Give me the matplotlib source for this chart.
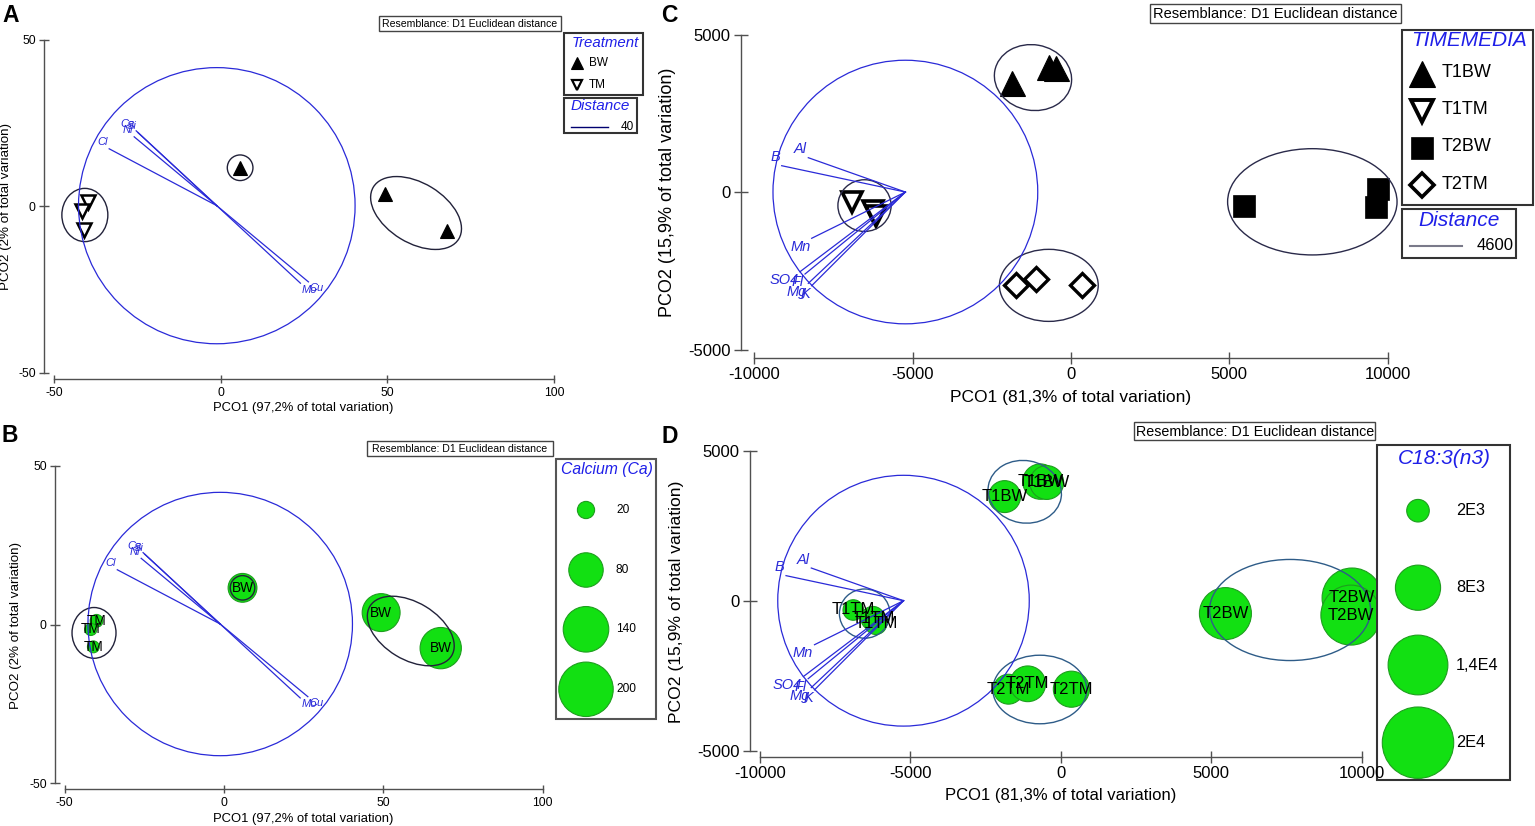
import matplotlib
matplotlib.use('Agg')
import matplotlib.pyplot as plt
from matplotlib.patches import Ellipse, Rectangle
import numpy as np

plt.rcParams['font.family'] = ['Liberation Sans', 'DejaVu Sans']
plt.rcParams['axes.unicode_minus'] = False

# ---------------- Panels A & B (Treatment / Calcium) ----------------
treatment = ['BW', 'BW', 'BW', 'TM', 'TM', 'TM']
pco1_ab = [5.8, 49.3, 68.0, -40.0, -41.8, -41.0]
pco2_ab = [11.6, 3.8, -7.4, 1.2, -1.5, -7.0]
calcium = [56, 97, 115, 11, 10, 9.5]

vec_ab_names = ['Cl', 'Ca', 'Si', 'Ni', 'Mo', 'Cu']
vec_ab_x = [-33.5, -25.4, -24.9, -26.0, 23.9, 26.3]
vec_ab_y = [17.3, 22.7, 22.2, 20.9, -23.1, -22.7]
vec_ab_origin = [-1.2, 0.2]
circle_ab_radius = 41.5

ell_ab_x = [5.8, -40.8, 58.6]
ell_ab_y = [11.6, -2.6, -2.0]
ell_ab_w = [7.7, 13.8, 30.0]
ell_ab_h = [7.7, 16.0, 18.0]
ell_ab_angle = [0, 0, -31.4]

ab_xticks = [-50, 0, 50, 100]
ab_yticks = [-50, 0, 50]
calcium_legend = [20, 80, 140, 200]
distance_ab = '40'

# ---------------- Panels C & D (TIMEMEDIA / C18:3(n3)) ----------------
timemedia = ['T1BW'] * 3 + ['T1TM'] * 3 + ['T2BW'] * 3 + ['T2TM'] * 3
pco1_cd = [-1870, -680, -470, -6900, -6250, -6150, 5470, 9680, 9640, -1740, -1100, 350]
pco2_cd = [3480, 3980, 3950, -300, -580, -750, -420, 100, -470, -2940, -2760, -2940]
c18 = [4000, 4900, 4500, 1650, 2250, 1900, 10600, 14100, 14100, 3500, 5000, 5100]

vec_cd_names = ['Al', 'B', 'Mn', 'SO4', 'Fl', 'Mg', 'K']
vec_cd_x = [-8295, -9135, -8188, -8557, -8399, -8295, -8188]
vec_cd_y = [1099, 845, -1457, -2517, -2590, -2885, -2961]
vec_cd_origin = [-5230, 10]
circle_cd_radius = 4180

ell_cd_x = [-1200, -6520, 7620, -700]
ell_cd_y = [3640, -420, -300, -2950]
ell_cd_w = [2450, 1680, 5350, 3120]
ell_cd_h = [2080, 1640, 3370, 2285]
ell_cd_angle = [-10, 0, 0, 0]

cd_xticks = [-10000, -5000, 0, 5000, 10000]
cd_yticks = [-5000, 0, 5000]
c18_legend = [2000, 8000, 14000, 20000]
c18_legend_labels = ['2E3', '8E3', '1,4E4', '2E4']
distance_cd = '4600'

# ---------------- styles ----------------
BLUE = '#2a2ad8'
TITLE_BLUE = '#1f1fe8'
GREEN = '#12e012'
GREEN_EDGE = '#1e9e1e'
AXCOL = '#505050'
marker_ab = {'BW': dict(marker='^', mfc='black', mec='black', ms=10.5, mew=0.8),
             'TM': dict(marker='v', mfc='white', mec='black', ms=9.5, mew=1.8)}
marker_cd = {'T1BW': dict(marker='^', mfc='black', mec='black', ms=18, mew=0.8),
             'T1TM': dict(marker='v', mfc='white', mec='black', ms=14, mew=2.6),
             'T2BW': dict(marker='s', mfc='black', mec='black', ms=16, mew=0.5),
             'T2TM': dict(marker='D', mfc='white', mec='black', ms=12, mew=2.4)}
S_AB = 7.68    # points^2 per calcium unit
S_CD = 0.1322  # points^2 per C18:3 unit

W, H = 1535, 826
fig = plt.figure(figsize=(W / 100, H / 100), dpi=100)


def make_axes(L, R, T, B, xcal, ycal):
    xv1, xp1, xv2, xp2 = xcal
    yv1, yp1, yv2, yp2 = ycal
    sx = (xp2 - xp1) / (xv2 - xv1)
    sy = (yp2 - yp1) / (yv2 - yv1)
    ax = fig.add_axes([L / W, 1 - B / H, (R - L) / W, (B - T) / H])
    ax.set_xlim(xv1 + (L - xp1) / sx, xv1 + (R - xp1) / sx)
    ax.set_ylim(yv1 + (B - yp1) / sy, yv1 + (T - yp1) / sy)
    ax.patch.set_visible(False)
    ax.set_zorder(1)
    return ax


def style_axes(ax, xticks, yticks, fs, ylen, xlen):
    for s in ['top', 'right']:
        ax.spines[s].set_visible(False)
    ax.spines['left'].set_bounds(min(yticks), max(yticks))
    ax.spines['bottom'].set_bounds(min(xticks), max(xticks))
    for s in ['left', 'bottom']:
        ax.spines[s].set_color(AXCOL)
        ax.spines[s].set_linewidth(1.0)
    ax.set_xticks(xticks)
    ax.set_xticklabels([str(t) for t in xticks])
    ax.set_yticks(yticks)
    ax.set_yticklabels([str(t) for t in yticks])
    ax.tick_params(axis='x', direction='inout', length=xlen, width=1, color=AXCOL,
                   labelsize=fs, pad=2.5)
    ax.tick_params(axis='y', direction='inout', length=ylen, width=1, color=AXCOL,
                   labelsize=fs, pad=2.5)


def draw_vectors(ax, names, xs, ys, origin, radius, fs):
    ox, oy = origin
    ax.add_patch(Ellipse((ox, oy), 2 * radius, 2 * radius, fill=False, ec=BLUE, lw=0.9,
                         zorder=4, clip_on=False))
    for n, x, y in zip(names, xs, ys):
        ax.plot([ox, x], [oy, y], color=BLUE, lw=0.9, zorder=4, clip_on=False)
        dx, dy = x - ox, y - oy
        ax.annotate(n, (x, y), xytext=(np.sign(dx) * 1, np.sign(dy) * 1),
                    textcoords='offset points', ha='right' if dx < 0 else 'left',
                    va='bottom' if dy > 0 else 'top', color=BLUE, fontsize=fs,
                    style='italic', zorder=5, annotation_clip=False)


def draw_ellipses(ax, xs, ys, ws, hs, angs, color):
    for x, y, w, h, a in zip(xs, ys, ws, hs, angs):
        ax.add_patch(Ellipse((x, y), w, h, angle=a, fill=False, ec=color, lw=1.0,
                             zorder=3, clip_on=False))


# ---------------- Panel A ----------------
axA = make_axes(44, 560, 30, 379.4, (-50, 54.2, 100, 554), (50, 40, -50, 372.7))
style_axes(axA, ab_xticks, ab_yticks, 8.7, 7, 6)
for g in ['BW', 'TM']:
    xs = [x for x, t in zip(pco1_ab, treatment) if t == g]
    ys = [y for y, t in zip(pco2_ab, treatment) if t == g]
    axA.plot(xs, ys, ls='none', zorder=3, clip_on=False, **marker_ab[g])
draw_ellipses(axA, ell_ab_x, ell_ab_y, ell_ab_w, ell_ab_h, ell_ab_angle, '#22223a')
draw_vectors(axA, vec_ab_names, vec_ab_x, vec_ab_y, vec_ab_origin, circle_ab_radius, 8)

# ---------------- Panel B ----------------
axB = make_axes(55, 550, 455, 789.3, (-50, 64.7, 100, 542.7), (50, 466, -50, 783.3))
style_axes(axB, ab_xticks, ab_yticks, 8.7, 7, 6)
axB.scatter(pco1_ab, pco2_ab, s=[S_AB * v for v in calcium], c=GREEN, edgecolors=GREEN_EDGE,
            linewidths=0.8, zorder=2, clip_on=False)
draw_ellipses(axB, ell_ab_x, ell_ab_y, ell_ab_w, ell_ab_h, ell_ab_angle, '#22223a')
draw_vectors(axB, vec_ab_names, vec_ab_x, vec_ab_y, vec_ab_origin, circle_ab_radius, 8)
for x, y, t in zip(pco1_ab, pco2_ab, treatment):
    axB.text(x, y, t, ha='center', va='center', fontsize=9.8, zorder=6)

# ---------------- Panel C ----------------
axC = make_axes(740.7, 1400, 25, 357.7, (-10000, 754.3, 10000, 1387.7), (5000, 34.7, -5000, 350))
style_axes(axC, cd_xticks, cd_yticks, 12, 10, 8)
for g in ['T1BW', 'T1TM', 'T2BW', 'T2TM']:
    xs = [x for x, t in zip(pco1_cd, timemedia) if t == g]
    ys = [y for y, t in zip(pco2_cd, timemedia) if t == g]
    axC.plot(xs, ys, ls='none', zorder=3, clip_on=False, **marker_cd[g])
draw_ellipses(axC, ell_cd_x, ell_cd_y, ell_cd_w, ell_cd_h, ell_cd_angle, '#2a2a4a')
draw_vectors(axC, vec_cd_names, vec_cd_x, vec_cd_y, vec_cd_origin, circle_cd_radius, 10.5)

# ---------------- Panel D ----------------
# right edge of the plotting area stops at the legend box, so the large bubbles are cut there
axD = make_axes(750, 1376, 440, 757.3, (-10000, 760, 10000, 1361.7), (5000, 451, -5000, 751))
style_axes(axD, cd_xticks, cd_yticks, 12, 10, 8)
axD.scatter(pco1_cd, pco2_cd, s=[S_CD * v for v in c18], c=GREEN, edgecolors=GREEN_EDGE,
            linewidths=0.8, zorder=2, clip_on=True)
draw_ellipses(axD, ell_cd_x, ell_cd_y, ell_cd_w, ell_cd_h, ell_cd_angle, '#2e5c88')
draw_vectors(axD, vec_cd_names, vec_cd_x, vec_cd_y, vec_cd_origin, circle_cd_radius, 10.5)
for x, y, t in zip(pco1_cd, pco2_cd, timemedia):
    axD.text(x, y, t, ha='center', va='center', fontsize=12, zorder=6)

# ---------------- overlay (labels, legends, boxes) in pixel coordinates ----------------
ov = fig.add_axes([0, 0, 1, 1])
ov.set_xlim(0, W)
ov.set_ylim(H, 0)
ov.axis('off')
ov.set_zorder(0)


def box(x0, y0, x1, y1, lw=1.0, ec='#333333'):
    ov.add_patch(Rectangle((x0, y0), x1 - x0, y1 - y0, fc='white', ec=ec, lw=lw, zorder=10))


def t(x, y, s, **kw):
    kw.setdefault('ha', 'center')
    kw.setdefault('va', 'center')
    ov.text(x, y, s, zorder=11, **kw)


# panel letters
for (x, y, s) in [(11, 16, 'A'), (10, 435, 'B'), (669, 15.5, 'C'), (670, 436.5, 'D')]:
    t(x, y, s, fontsize=16.5, fontweight='bold')

# resemblance boxes
res_txt = 'Resemblance: D1 Euclidean distance'
for (x0, y0, x1, y1, fs) in [(379, 16, 561, 30.5, 7.6), (367, 441, 553, 455.7, 7.6),
                             (1150, 4, 1401, 23.3, 10.5), (1134.4, 422.3, 1375.3, 440.3, 10.3)]:
    box(x0, y0, x1, y1, lw=1.0, ec='#444444')
    t((x0 + x1) / 2, (y0 + y1) / 2 + 0.5, res_txt, fontsize=fs)

# axis labels
t(303.6, 408.5, 'PCO1 (97,2% of total variation)', fontsize=9.4)
t(6.5, 206.7, 'PCO2 (2% of total variation)', fontsize=9.6, rotation=90)
t(303.5, 819.3, 'PCO1 (97,2% of total variation)', fontsize=9.4)
t(15.7, 625.5, 'PCO2 (2% of total variation)', fontsize=9.6, rotation=90)
t(1070.8, 397.3, 'PCO1 (81,3% of total variation)', fontsize=12.5)
t(667.4, 192.5, 'PCO2 (15,9% of total variation)', fontsize=13, rotation=90)
t(1060.3, 795.7, 'PCO1 (81,3% of total variation)', fontsize=12)
t(676.4, 601.7, 'PCO2 (15,9% of total variation)', fontsize=12.6, rotation=90)

# Legend A: Treatment
box(564, 33, 642.7, 95.3, lw=1.5)
t(605, 43, 'Treatment', fontsize=10.8, style='italic', color=TITLE_BLUE)
legA_marker = {'BW': dict(marker='^', mfc='black', mec='black', ms=8, mew=0.8),
               'TM': dict(marker='v', mfc='white', mec='black', ms=7.5, mew=1.6)}
for i, g in enumerate(['BW', 'TM']):
    yy = 62.5 + 22 * i
    ov.plot([577], [yy], ls='none', zorder=11, **legA_marker[g])
    t(589, yy, g, fontsize=8.5, ha='left')
box(564, 98, 637, 133, lw=1.5)
t(600, 106.5, 'Distance', fontsize=11, style='italic', color=TITLE_BLUE)
ov.plot([571, 608], [127, 127], color='#000070', lw=1.0, zorder=11)
t(634, 127, distance_ab, fontsize=8.5, ha='right')

# Legend B: Calcium
box(555.5, 459, 656, 719.3, lw=1.5, ec='#555555')
t(606.5, 469.5, 'Calcium (Ca)', fontsize=11.3, style='italic', color=TITLE_BLUE)
legB_y = [510, 570, 629.3, 689.3]
ov.scatter([586] * len(calcium_legend), legB_y, s=[S_AB * v for v in calcium_legend], c=GREEN,
           edgecolors=GREEN_EDGE, linewidths=0.8, zorder=11)
for yy, v in zip(legB_y, calcium_legend):
    t(616, yy, str(v), fontsize=8.6, ha='left')

# Legend C: TIMEMEDIA
box(1402.3, 30, 1533.3, 205, lw=1.5)
t(1469, 41, 'TIMEMEDIA', fontsize=15, style='italic', color=TITLE_BLUE)
legC_marker = {'T1BW': dict(marker='^', mfc='black', mec='black', ms=19, mew=0.8),
               'T1TM': dict(marker='v', mfc='white', mec='black', ms=16, mew=2.8),
               'T2BW': dict(marker='s', mfc='black', mec='black', ms=16, mew=0.5),
               'T2TM': dict(marker='D', mfc='white', mec='black', ms=12.5, mew=2.6)}
for i, g in enumerate(['T1BW', 'T1TM', 'T2BW', 'T2TM']):
    yy = 73.5 + 37.2 * i
    ov.plot([1421.7], [yy], ls='none', zorder=11, **legC_marker[g])
    t(1441.7, yy - 1, g, fontsize=13, ha='left')
box(1402.3, 209.3, 1515.7, 258.3, lw=1.5)
t(1459, 221, 'Distance', fontsize=15, style='italic', color=TITLE_BLUE)
ov.plot([1410, 1461.7], [246, 246], color='#7a7a8a', lw=1.5, zorder=11)
t(1513.5, 246, distance_cd, fontsize=12, ha='right')

# Legend D: C18:3(n3)
box(1377, 445, 1510, 780, lw=1.5)
t(1444.6, 458, 'C18:3(n3)', fontsize=15, style='italic', color=TITLE_BLUE)
legD_y = [510.7, 587.7, 665, 742.7]
ov.scatter([1418] * len(c18_legend), legD_y, s=[S_CD * v for v in c18_legend], c=GREEN,
           edgecolors=GREEN_EDGE, linewidths=0.8, zorder=11)
for yy, lab in zip(legD_y, c18_legend_labels):
    t(1456, yy, lab, fontsize=11.7, ha='left')

fig.savefig('out.png', dpi=100)
